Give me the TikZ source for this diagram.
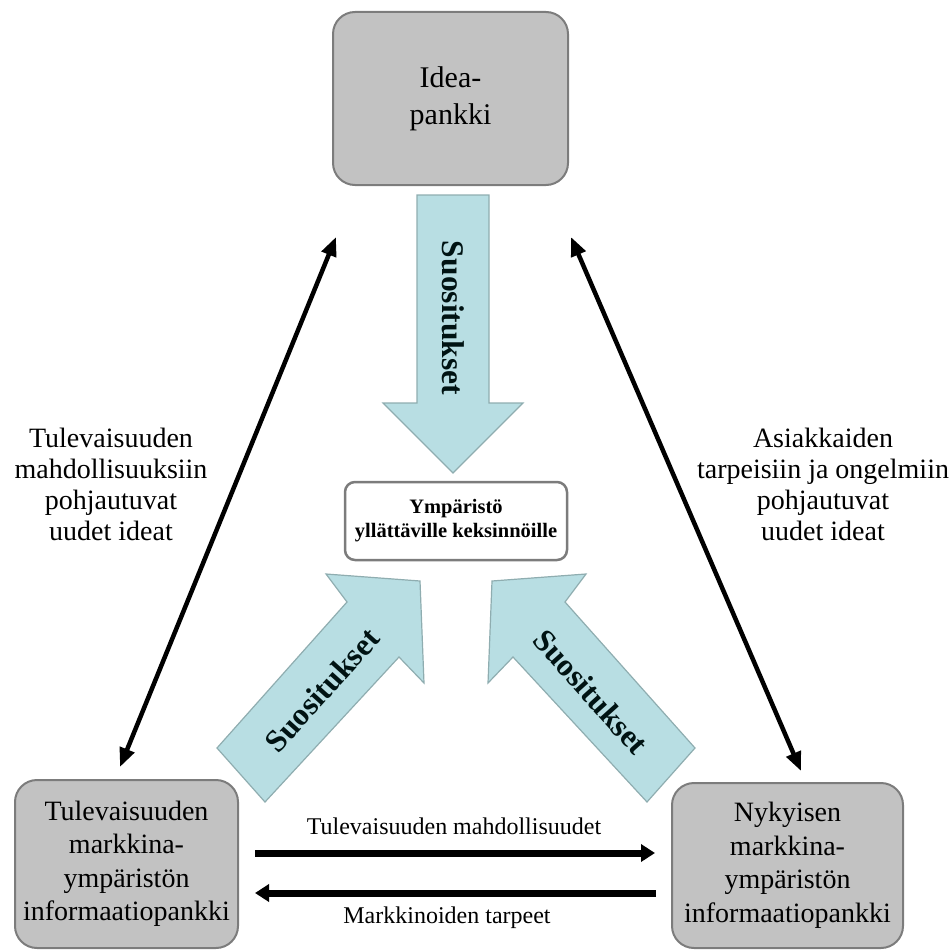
\documentclass[tikz,border=0pt]{standalone}
\usepackage{fontspec}
\setmainfont{Liberation Serif}
\usetikzlibrary{arrows.meta}
\definecolor{boxgray}{HTML}{C2C2C2}
\definecolor{boxline}{HTML}{7C7C7C}
\definecolor{arrowblue}{HTML}{B8DEE3}
\definecolor{arrowline}{HTML}{8FADB0}
\begin{document}
\begin{tikzpicture}[x=1pt,y=-1pt,
  bank/.style={draw=boxline, fill=boxgray, line width=2pt, rounded corners=22pt,
    align=center, inner sep=0pt},
  envbox/.style={draw=boxline, fill=white, line width=2.5pt, rounded corners=10pt,
    align=center, inner sep=0pt, font=\bfseries\fontsize{20.5}{24}\selectfont},
  sidelabel/.style={align=center, font=\fontsize{28}{31}\selectfont},
  flowlabel/.style={font=\fontsize{24}{28}\selectfont},
  bigarrow/.style={draw=arrowline, fill=arrowblue, line width=1.2pt, line join=miter},
  arrowtext/.style={font=\bfseries\fontsize{31.5}{34}\selectfont, text=black!85!teal},
  linkarrow/.style={line width=4.5pt, {Triangle[length=19pt,width=15pt]}-{Triangle[length=19pt,width=15pt]}},
  flowarrow/.style={line width=7pt, -{Triangle[length=14pt,width=17pt]}}
]
\useasboundingbox (0,0) rectangle (948,952);

% boxes
\node[bank, minimum width=235pt, minimum height=173pt, font=\fontsize{30}{37}\selectfont]
  (idea) at (450.5,98.5) {Idea-\\pankki};
\node[bank, minimum width=223pt, minimum height=168pt, font=\fontsize{28}{33.5}\selectfont]
  (future) at (126.5,864) {Tulevaisuuden\\markkina-\\ympäristön\\informaatiopankki};
\node[bank, minimum width=231pt, minimum height=165pt, font=\fontsize{28}{33.5}\selectfont]
  (current) at (787.5,865.5) {Nykyisen\\markkina-\\ympäristön\\informaatiopankki};
\node[envbox, minimum width=222pt, minimum height=78pt]
  (env) at (456,521) {Ympäristö\\yllättäville keksinnöille};

% blue arrows
\draw[bigarrow] (417,195) -- (489,195) -- (489,403) -- (523,403) -- (453,473)
  -- (383,403) -- (417,403) -- cycle;
\node[arrowtext, rotate=-90] (sdown) at (453,318) {Suositukset};

\draw[bigarrow] (217,748) -- (347,602) -- (326,574) -- (420,581) -- (424,683)
  -- (399,657) -- (265,802) -- cycle;
\node[arrowtext, rotate=48] (sleft) at (322,690) {Suositukset};

\draw[bigarrow] (695,748) -- (565,602) -- (586,574) -- (492,581) -- (488,683)
  -- (513,657) -- (647,802) -- cycle;
\node[arrowtext, rotate=-48] (sright) at (591,692) {Suositukset};

% long double arrows
\coordinate (lt) at (336,237);
\coordinate (lb) at (120,767);
\coordinate (rt) at (571,237);
\coordinate (rb) at (801,771);
\draw[linkarrow] (lt) -- (lb);
\draw[linkarrow] (rt) -- (rb);

\node[sidelabel] (leftlabel) at (111,484) {Tulevaisuuden\\mahdollisuuksiin\\pohjautuvat\\uudet ideat};
\node[sidelabel] (rightlabel) at (823,484) {Asiakkaiden\\tarpeisiin ja ongelmiin\\pohjautuvat\\uudet ideat};

% horizontal arrows
\coordinate (f1) at (255,853);
\coordinate (f2) at (655,853);
\coordinate (m1) at (656,893);
\coordinate (m2) at (255,893);
\draw[flowarrow] (f1) -- (f2);
\draw[flowarrow] (m1) -- (m2);
\node[flowlabel] (flab) at (454,826) {Tulevaisuuden mahdollisuudet};
\node[flowlabel] (mlab) at (447,918) {Markkinoiden tarpeet};
\end{tikzpicture}
\end{document}
